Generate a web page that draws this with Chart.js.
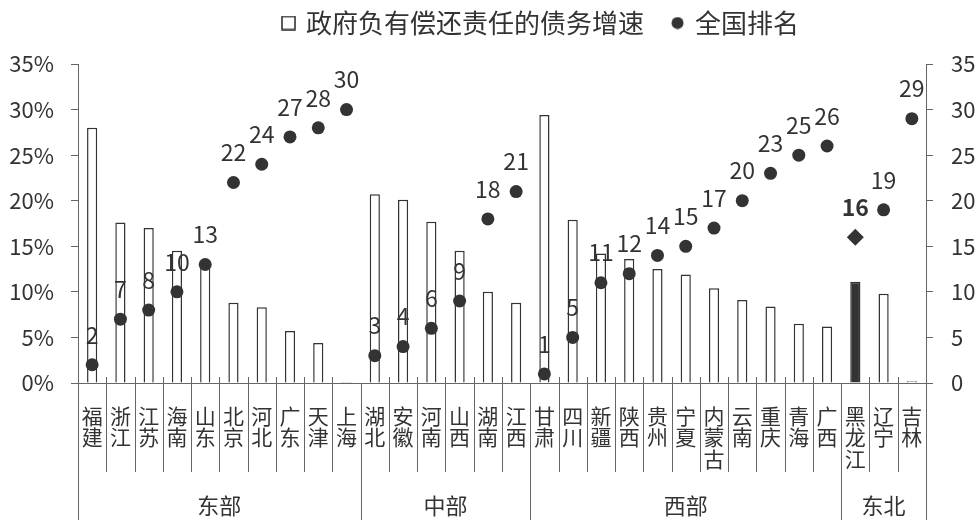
<!DOCTYPE html>
<html lang="zh">
<head>
<meta charset="UTF-8">
<title>政府负有偿还责任的债务增速与全国排名</title>
<style>
    body {
        margin: 0;
        background: #fff;
    }

    #chart-container {
        width: 979px;
        height: 520px;
    }
</style>
</head>
<body>
<div id="chart-container">
    <canvas id="chart"></canvas>
</div>

<script src="https://cdn.jsdelivr.net/npm/chart.js"></script>
<script>
    // categories, grouped by region
    const provinces = ['福建', '浙江', '江苏', '海南', '山东', '北京', '河北', '广东', '天津', '上海',
        '湖北', '安徽', '河南', '山西', '湖南', '江西',
        '甘肃', '四川', '新疆', '陕西', '贵州', '宁夏', '内蒙古', '云南', '重庆', '青海', '广西',
        '黑龙江', '辽宁', '吉林'];
    const regionNames = ['东部', '中部', '西部', '东北'];
    const regionSizes = [10, 6, 11, 3];

    // debt growth (%) and national rank
    const growth = [28.0, 17.6, 17.0, 14.5, 13.1, 8.8, 8.3, 5.7, 4.4, 0.1,
        20.7, 20.1, 17.7, 14.5, 10.0, 8.8,
        29.4, 17.9, 14.2, 13.6, 12.5, 11.9, 10.4, 9.1, 8.4, 6.5, 6.2,
        11.1, 9.8, 0.2];
    const ranks = [2, 7, 8, 10, 13, 22, 24, 27, 28, 30,
        3, 4, 6, 9, 18, 21,
        1, 5, 11, 12, 14, 15, 17, 20, 23, 25, 26,
        16, 19, 29];

    const leftTicks = [0, 5, 10, 15, 20, 25, 30, 35];
    const rightTicks = [0, 5, 10, 15, 20, 25, 30, 35];

    const growthLabel = '政府负有偿还责任的债务增速';
    const rankLabel = '全国排名';
    const highlight = provinces.indexOf('黑龙江');

    const ink = '#333';
    const lineColor = '#666';
    const fontFamily = '"Noto Sans CJK SC", "Noto Sans", sans-serif';

    // small legend glyphs
    function glyph(size, draw) {
        const c = document.createElement('canvas');
        c.width = size;
        c.height = size;
        draw(c.getContext('2d'));
        return c;
    }
    const squareGlyph = glyph(15, g => {
        g.strokeStyle = ink;
        g.lineWidth = 1.6;
        g.strokeRect(1, 1, 13, 13);
    });
    const dotGlyph = glyph(13, g => {
        g.fillStyle = ink;
        g.beginPath();
        g.arc(6.5, 6.5, 6, 0, Math.PI * 2);
        g.fill();
    });

    // legend sits a bit right of centre, close to the top
    const legendTweak = {
        id: 'legendTweak',
        afterInit(chart) {
            const lg = chart.legend;
            const fit = lg.fit;
            const draw = lg.draw;
            lg.fit = function () {
                fit.call(this);
                this.height -= 1;
            };
            lg.draw = function () {
                const bottom = this.bottom;
                this.bottom = bottom + 40; // keep the moved text inside the clip
                this.ctx.save();
                this.ctx.translate(52, -19);
                draw.call(this);
                this.ctx.restore();
                this.bottom = bottom;
            };
        }
    };

    // rank labels, category separators and region labels
    const annotate = {
        id: 'annotate',
        afterDatasetsDraw(chart) {
            const ctx = chart.ctx;
            const meta = chart.getDatasetMeta(1);
            ctx.save();
            ctx.fillStyle = ink;
            ctx.textAlign = 'center';
            ctx.textBaseline = 'middle';
            meta.data.forEach((pt, i) => {
                ctx.font = (i === highlight ? 'bold ' : '') + '23px ' + fontFamily;
                ctx.fillText(ranks[i], pt.x, pt.y - 30);
            });
            ctx.restore();
        },
        afterDraw(chart) {
            const ctx = chart.ctx;
            const x = chart.scales.x;
            const area = chart.chartArea;
            const half = (x.getPixelForValue(1) - x.getPixelForValue(0)) / 2;
            const edges = [0];
            regionSizes.forEach(n => edges.push(edges[edges.length - 1] + n));

            ctx.save();
            ctx.strokeStyle = lineColor;
            ctx.lineWidth = 1;
            for (let i = 0; i <= provinces.length; i++) {
                const px = Math.round(x.getPixelForValue(i) - half) + 0.5;
                const isEdge = edges.includes(i);
                const top = isEdge ? area.bottom : area.bottom - 6;
                const bottom = isEdge ? chart.height : area.bottom + 89;
                ctx.beginPath();
                ctx.moveTo(px, top);
                ctx.lineTo(px, bottom);
                ctx.stroke();
            }

            ctx.fillStyle = ink;
            ctx.font = '22px ' + fontFamily;
            ctx.textAlign = 'center';
            ctx.textBaseline = 'middle';
            regionNames.forEach((name, r) => {
                const a = x.getPixelForValue(edges[r]) - half;
                const b = x.getPixelForValue(edges[r + 1]) - half;
                ctx.fillText(name, (a + b) / 2, area.bottom + 123);
            });
            ctx.restore();
        }
    };

    Chart.defaults.font.family = fontFamily;
    Chart.defaults.color = ink;

    const ctx = document.getElementById('chart').getContext('2d');
    new Chart(ctx, {
        data: {
            labels: provinces.map(p => p.split('')),
            datasets: [{
                type: 'bar',
                label: growthLabel,
                data: growth,
                yAxisID: 'y',
                order: 1,
                backgroundColor: c => c.dataIndex === highlight ? ink : '#fff',
                borderColor: ink,
                borderWidth: 1.5,
                barPercentage: 0.36,
                categoryPercentage: 1
            }, {
                type: 'line',
                label: rankLabel,
                data: ranks,
                yAxisID: 'y1',
                order: 0,
                showLine: false,
                pointStyle: c => c.dataIndex === highlight ? 'rectRot' : 'circle',
                pointRadius: c => c.dataIndex === highlight ? 8.5 : 6.5,
                backgroundColor: ink,
                borderColor: ink,
                borderWidth: 0
            }]
        },
        options: {
            responsive: true,
            maintainAspectRatio: false,
            animation: false,
            layout: {
                padding: { top: 0, left: 0, right: 0, bottom: 0 }
            },
            plugins: {
                legend: {
                    position: 'top',
                    labels: {
                        usePointStyle: true,
                        boxWidth: 9,
                        font: { size: 26 },
                        color: ink,
                        padding: 29,
                        generateLabels: () => [
                            { text: growthLabel, pointStyle: squareGlyph, datasetIndex: 0, fontColor: ink },
                            { text: rankLabel, pointStyle: dotGlyph, datasetIndex: 1, fontColor: ink }
                        ]
                    }
                },
                tooltip: { enabled: false }
            },
            scales: {
                x: {
                    grid: { display: false },
                    border: { display: true, color: lineColor, width: 1 },
                    ticks: {
                        autoSkip: false,
                        maxRotation: 0,
                        minRotation: 0,
                        padding: 14,
                        font: { size: 21, lineHeight: 1.03 },
                        color: ink
                    },
                    afterFit: s => { s.height = 137; }
                },
                y: {
                    position: 'left',
                    min: 0,
                    max: 35,
                    afterBuildTicks: s => { s.ticks = leftTicks.map(v => ({ value: v })); },
                    ticks: {
                        callback: v => v + '%',
                        font: { size: 22 },
                        color: ink,
                        padding: 17
                    },
                    grid: { drawOnChartArea: false, tickLength: 7, color: lineColor },
                    border: { display: true, color: lineColor, width: 1 },
                    afterFit: s => { s.width = 78; }
                },
                y1: {
                    position: 'right',
                    min: 0,
                    max: 35,
                    afterBuildTicks: s => { s.ticks = rightTicks.map(v => ({ value: v })); },
                    ticks: {
                        font: { size: 22 },
                        color: ink,
                        padding: 18
                    },
                    grid: { drawOnChartArea: false, tickLength: 7, color: lineColor },
                    border: { display: true, color: lineColor, width: 1 },
                    afterFit: s => { s.width = 53; }
                }
            }
        },
        plugins: [legendTweak, annotate]
    });
</script>
</body>
</html>
